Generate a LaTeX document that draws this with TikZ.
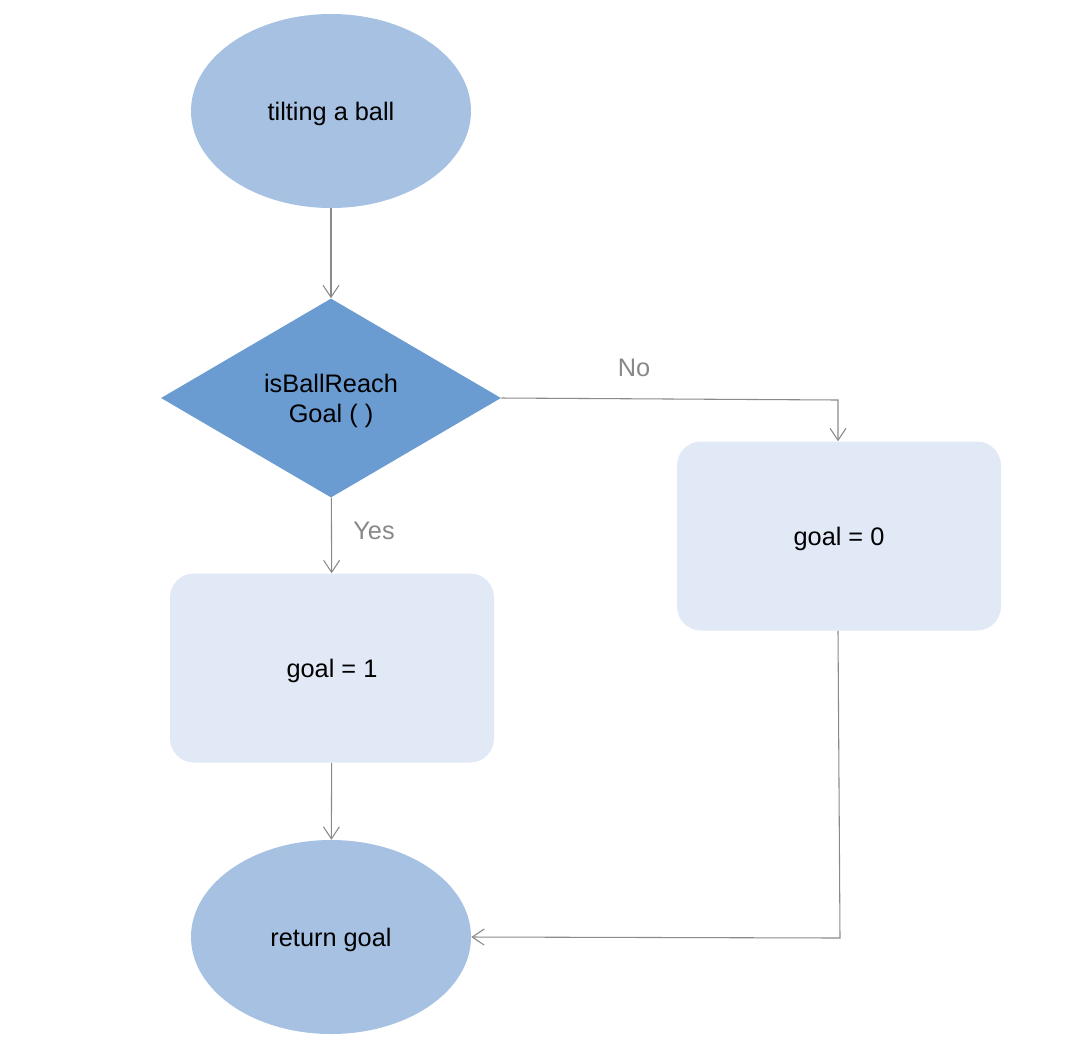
\documentclass[tikz,border=0pt]{standalone}
\usepackage{fontspec}
\setmainfont{Liberation Sans}
\usetikzlibrary{shapes.geometric,arrows.meta}
\definecolor{ellc}{HTML}{A6C1E2}
\definecolor{diac}{HTML}{6A9BD1}
\definecolor{boxc}{HTML}{E0E9F5}
\definecolor{linec}{HTML}{8A8A8A}
\definecolor{labc}{HTML}{888888}
\tikzset{
  x=0.75pt, y=-0.75pt,
  every node/.style={font=\fontsize{19}{23}\selectfont, text=black},
  term/.style={ellipse, fill=ellc, minimum width=280*0.75pt, minimum height=194*0.75pt, inner sep=0pt, text depth=0pt},
  decide/.style={diamond, fill=diac, minimum width=340*0.75pt, minimum height=199*0.75pt, inner sep=0pt, aspect=1.7, align=center},
  proc/.style={rectangle, rounded corners=18pt, fill=boxc, minimum width=324*0.75pt, minimum height=189*0.75pt, inner sep=0pt, text depth=0pt},
  conn/.style={draw=linec, line width=0.8pt, -{Straight Barb[length=9pt,width=12pt,line width=0.8pt]}},
  lab/.style={text=labc, font=\fontsize{19}{23}\selectfont}
}
\begin{document}
\begin{tikzpicture}
\useasboundingbox (0,0) rectangle (1078,1040);
\node[term] (start) at (331,111) {tilting a ball};
\node[decide] (dec) at (331,398) {};
\node[align=center] (dectext) at (331,401) {isBallReach\\Goal ( )};
\node[proc] (g1) at (332,668) {goal = 1};
\node[proc] (g0) at (839,536) {goal = 0};
\node[term] (ret) at (331,937) {return goal};
\coordinate (c1) at (838,400);
\coordinate (c2) at (840,938);
\draw[conn] (start) -- (dec);
\draw[conn] (dec.east) -- (c1) -- (g0.north -| c1);
\draw[conn] (dec) -- (g1);
\draw[conn] (g1) -- (ret);
\draw[conn] (g0.south -| c1) -- (c2) -- (ret.east);
\node[lab] (no) at (634,368) {No};
\node[lab] (yes) at (374,531) {Yes};
\end{tikzpicture}
\end{document}
